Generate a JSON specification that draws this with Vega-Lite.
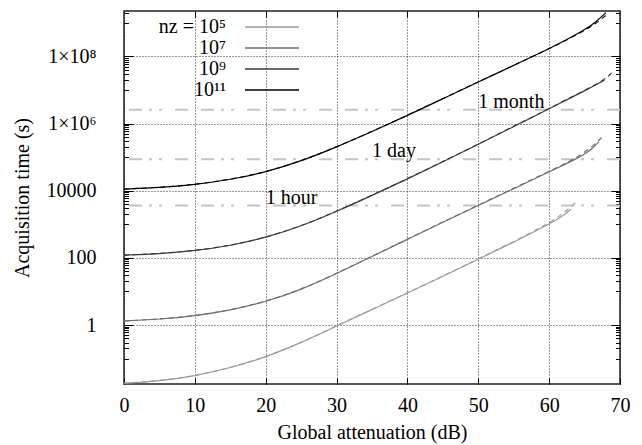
{
  "$schema": "https://vega.github.io/schema/vega-lite/v6.json",
  "width": 496,
  "height": 373,
  "autosize": {"type": "none"},
  "padding": {"left": 124, "top": 11, "right": 22, "bottom": 61},
  "background": "white",
  "config": {
    "view": {"stroke": "#222222", "strokeWidth": 1.5},
    "font": "Liberation Serif",
    "axis": {"labelFont": "Liberation Serif", "titleFont": "Liberation Serif", "labelFontSize": 20, "titleFontSize": 20, "labelColor": "#000", "titleColor": "#000", "titleFontWeight": "normal", "tickColor": "#000", "domain": false},
    "legend": {"labelFont": "Liberation Serif", "labelFontSize": 20, "labelColor": "#000"}
  },
  "datasets": {
    "solid": [
      {"s": "nz = 10⁵", "a": 0, "t": 0.01841}, {"s": "nz = 10⁵", "a": 5, "t": 0.02138}, {"s": "nz = 10⁵", "a": 10, "t": 0.0302}, {"s": "nz = 10⁵", "a": 15, "t": 0.05248}, {"s": "nz = 10⁵", "a": 20, "t": 0.1096}, {"s": "nz = 10⁵", "a": 25, "t": 0.2951}, {"s": "nz = 10⁵", "a": 30, "t": 0.9333}, {"s": "nz = 10⁵", "a": 35, "t": 2.884}, {"s": "nz = 10⁵", "a": 40, "t": 8.913}, {"s": "nz = 10⁵", "a": 45, "t": 28.18}, {"s": "nz = 10⁵", "a": 50, "t": 91.2}, {"s": "nz = 10⁵", "a": 55, "t": 295.1}, {"s": "nz = 10⁵", "a": 60, "t": 1000}, {"s": "nz = 10⁵", "a": 62, "t": 1820}, {"s": "nz = 10⁵", "a": 63.1, "t": 2818},
      {"s": "10⁷", "a": 0, "t": 1.318}, {"s": "10⁷", "a": 5, "t": 1.479}, {"s": "10⁷", "a": 10, "t": 1.862}, {"s": "10⁷", "a": 15, "t": 2.754}, {"s": "10⁷", "a": 20, "t": 4.898}, {"s": "10⁷", "a": 25, "t": 11.22}, {"s": "10⁷", "a": 30, "t": 33.88}, {"s": "10⁷", "a": 35, "t": 109.6}, {"s": "10⁷", "a": 40, "t": 354.8}, {"s": "10⁷", "a": 45, "t": 1148}, {"s": "10⁷", "a": 50, "t": 3631}, {"s": "10⁷", "a": 55, "t": 11480}, {"s": "10⁷", "a": 60, "t": 36310}, {"s": "10⁷", "a": 62, "t": 57540}, {"s": "10⁷", "a": 64, "t": 93330}, {"s": "10⁷", "a": 65, "t": 123000}, {"s": "10⁷", "a": 66, "t": 173800}, {"s": "10⁷", "a": 67, "t": 281800},
      {"s": "10⁹", "a": 0, "t": 120.2}, {"s": "10⁹", "a": 5, "t": 131.8}, {"s": "10⁹", "a": 10, "t": 162.2}, {"s": "10⁹", "a": 15, "t": 229.1}, {"s": "10⁹", "a": 20, "t": 398.1}, {"s": "10⁹", "a": 25, "t": 871}, {"s": "10⁹", "a": 30, "t": 2399}, {"s": "10⁹", "a": 35, "t": 7244}, {"s": "10⁹", "a": 40, "t": 22390}, {"s": "10⁹", "a": 45, "t": 72440}, {"s": "10⁹", "a": 50, "t": 239900}, {"s": "10⁹", "a": 55, "t": 812800}, {"s": "10⁹", "a": 60, "t": 2754000}, {"s": "10⁹", "a": 65, "t": 9333000}, {"s": "10⁹", "a": 67.8, "t": 19500000},
      {"s": "10¹¹", "a": 0, "t": 11170}, {"s": "10¹¹", "a": 5, "t": 12300}, {"s": "10¹¹", "a": 10, "t": 15140}, {"s": "10¹¹", "a": 15, "t": 21380}, {"s": "10¹¹", "a": 20, "t": 35480}, {"s": "10¹¹", "a": 25, "t": 75860}, {"s": "10¹¹", "a": 30, "t": 199500}, {"s": "10¹¹", "a": 35, "t": 575400}, {"s": "10¹¹", "a": 40, "t": 1738000}, {"s": "10¹¹", "a": 45, "t": 5495000}, {"s": "10¹¹", "a": 50, "t": 17380000}, {"s": "10¹¹", "a": 55, "t": 53700000}, {"s": "10¹¹", "a": 60, "t": 169800000}, {"s": "10¹¹", "a": 62.5, "t": 316200000}, {"s": "10¹¹", "a": 65, "t": 616600000}, {"s": "10¹¹", "a": 66.5, "t": 1000000000}, {"s": "10¹¹", "a": 68, "t": 1995000000}
    ],
    "dashed": [
      {"g": "d5", "a": 0, "t": 0.0186}, {"g": "d5", "a": 5, "t": 0.0216}, {"g": "d5", "a": 10, "t": 0.0305}, {"g": "d5", "a": 15, "t": 0.0531}, {"g": "d5", "a": 20, "t": 0.111}, {"g": "d5", "a": 25, "t": 0.298}, {"g": "d5", "a": 30, "t": 0.945}, {"g": "d5", "a": 35, "t": 2.92}, {"g": "d5", "a": 40, "t": 9.05}, {"g": "d5", "a": 45, "t": 28.7}, {"g": "d5", "a": 50, "t": 93}, {"g": "d5", "a": 55, "t": 305}, {"g": "d5", "a": 60, "t": 1080}, {"g": "d5", "a": 62, "t": 2100}, {"g": "d5", "a": 64.1, "t": 5248},
      {"g": "d7", "a": 0, "t": 1.33}, {"g": "d7", "a": 5, "t": 1.49}, {"g": "d7", "a": 10, "t": 1.88}, {"g": "d7", "a": 15, "t": 2.79}, {"g": "d7", "a": 20, "t": 4.95}, {"g": "d7", "a": 25, "t": 11.4}, {"g": "d7", "a": 30, "t": 34.4}, {"g": "d7", "a": 35, "t": 111.5}, {"g": "d7", "a": 40, "t": 361}, {"g": "d7", "a": 45, "t": 1170}, {"g": "d7", "a": 50, "t": 3720}, {"g": "d7", "a": 55, "t": 11900}, {"g": "d7", "a": 60, "t": 38000}, {"g": "d7", "a": 62, "t": 61000}, {"g": "d7", "a": 64, "t": 100000}, {"g": "d7", "a": 66, "t": 200000}, {"g": "d7", "a": 67.7, "t": 430000},
      {"g": "d9", "a": 0, "t": 121}, {"g": "d9", "a": 5, "t": 133}, {"g": "d9", "a": 10, "t": 164}, {"g": "d9", "a": 15, "t": 232}, {"g": "d9", "a": 20, "t": 403}, {"g": "d9", "a": 25, "t": 884}, {"g": "d9", "a": 30, "t": 2435}, {"g": "d9", "a": 35, "t": 7350}, {"g": "d9", "a": 40, "t": 22800}, {"g": "d9", "a": 45, "t": 74000}, {"g": "d9", "a": 50, "t": 245000}, {"g": "d9", "a": 55, "t": 830000}, {"g": "d9", "a": 60, "t": 2820000}, {"g": "d9", "a": 65, "t": 9800000}, {"g": "d9", "a": 67.8, "t": 20000000}, {"g": "d9", "a": 69, "t": 34670000},
      {"g": "d11", "a": 0, "t": 11250}, {"g": "d11", "a": 5, "t": 12450}, {"g": "d11", "a": 10, "t": 15300}, {"g": "d11", "a": 15, "t": 21600}, {"g": "d11", "a": 20, "t": 35900}, {"g": "d11", "a": 25, "t": 76700}, {"g": "d11", "a": 30, "t": 201500}, {"g": "d11", "a": 35, "t": 581000}, {"g": "d11", "a": 40, "t": 1755000}, {"g": "d11", "a": 45, "t": 5550000}, {"g": "d11", "a": 50, "t": 17500000}, {"g": "d11", "a": 55, "t": 54000000}, {"g": "d11", "a": 60, "t": 169000000}, {"g": "d11", "a": 62.5, "t": 310000000}, {"g": "d11", "a": 65, "t": 590000000}, {"g": "d11", "a": 66.5, "t": 920000000}, {"g": "d11", "a": 68, "t": 1660000000}
    ],
    "refs": [{"t": 3600}, {"t": 86400}, {"t": 2592000}],
    "notes": [{"a": 20, "t": 3600, "label": "1 hour"}, {"a": 35, "t": 86400, "label": "1 day"}, {"a": 50, "t": 2592000, "label": "1 month"}]
  },
  "resolve": {"axis": {"x": "independent", "y": "independent"}},
  "layer": [
    {
      "data": {"name": "refs"},
      "mark": {"type": "rule", "color": "#c4c4c4", "strokeWidth": 2, "strokeDash": [13, 13, 3, 7, 3, 7, 13, 13]},
      "encoding": {
        "y": {"field": "t", "type": "quantitative", "scale": {"type": "log", "domain": [0.0175, 2250000000], "nice": false},
          "axis": {"orient": "right", "values": [1, 100, 10000, 1000000, 100000000], "labels": false, "grid": false, "tickSize": -9, "title": null}}
      }
    },
    {
      "data": {"name": "notes"},
      "mark": {"type": "text", "align": "left", "baseline": "alphabetic", "dy": -2, "fontSize": 20, "font": "Liberation Serif", "color": "#000"},
      "encoding": {
        "x": {"field": "a", "type": "quantitative", "scale": {"domain": [0, 70], "nice": false},
          "axis": {"orient": "top", "values": [10, 20, 30, 40, 50, 60], "labels": false, "grid": false, "tickSize": -6, "title": null}},
        "y": {"field": "t", "type": "quantitative", "scale": {"type": "log", "domain": [0.0175, 2250000000], "nice": false},
          "axis": {"orient": "left", "values": [0.1, 0.2, 0.3, 0.4, 0.5, 0.6, 0.7, 0.8, 0.9, 10, 20, 30, 40, 50, 60, 70, 80, 90, 1000, 2000, 3000, 4000, 5000, 6000, 7000, 8000, 9000, 100000, 200000, 300000, 400000, 500000, 600000, 700000, 800000, 900000, 10000000, 20000000, 30000000, 40000000, 50000000, 60000000, 70000000, 80000000, 90000000, 1000000000, 2000000000], "labels": false, "grid": false, "tickSize": -4.5, "title": null}},
        "text": {"field": "label"}
      }
    },
    {
      "data": {"name": "dashed"},
      "mark": {"type": "line", "strokeWidth": 1.1, "strokeDash": [5, 4], "interpolate": "basis", "clip": true},
      "encoding": {
        "x": {"field": "a", "type": "quantitative", "scale": {"domain": [0, 70], "nice": false}, "axis": null},
        "y": {"field": "t", "type": "quantitative", "scale": {"type": "log", "domain": [0.0175, 2250000000], "nice": false},
          "axis": {"orient": "right", "values": [0.1, 0.2, 0.3, 0.4, 0.5, 0.6, 0.7, 0.8, 0.9, 10, 20, 30, 40, 50, 60, 70, 80, 90, 1000, 2000, 3000, 4000, 5000, 6000, 7000, 8000, 9000, 100000, 200000, 300000, 400000, 500000, 600000, 700000, 800000, 900000, 10000000, 20000000, 30000000, 40000000, 50000000, 60000000, 70000000, 80000000, 90000000, 1000000000, 2000000000], "labels": false, "grid": false, "tickSize": -4.5, "title": null}},
        "stroke": {"field": "g", "type": "nominal", "scale": {"domain": ["d5", "d7", "d9", "d11"], "range": ["#9a9a9a", "#6e6e6e", "#3a3a3a", "#000000"]}, "legend": null}
      }
    },
    {
      "data": {"name": "solid"},
      "mark": {"type": "line", "strokeWidth": 1.2, "interpolate": "basis", "clip": true},
      "encoding": {
        "x": {"field": "a", "type": "quantitative", "scale": {"domain": [0, 70], "nice": false},
          "axis": {"orient": "bottom", "values": [0, 10, 20, 30, 40, 50, 60, 70], "grid": true, "gridDash": [1, 2], "gridColor": "#000", "gridOpacity": 0.8, "tickSize": -6, "labelPadding": 17, "labelFlush": false, "title": "Global attenuation (dB)", "titleX": 248, "titleY": 48, "titleBaseline": "middle"}},
        "y": {"field": "t", "type": "quantitative", "scale": {"type": "log", "domain": [0.0175, 2250000000], "nice": false},
          "axis": {"orient": "left", "values": [1, 100, 10000, 1000000, 100000000], "grid": true, "gridDash": [1, 2], "gridColor": "#000", "gridOpacity": 0.8, "tickSize": -9, "labelPadding": 37, "labelExpr": "datum.value == 100000000 ? '1×10⁸' : datum.value == 1000000 ? '1×10⁶' : format(datum.value, 'd')", "title": "Acquisition time (s)", "titleX": -102, "titleY": 186.5, "titleAngle": -90, "titleBaseline": "middle", "titleAlign": "center"}},
        "color": {"field": "s", "type": "nominal", "scale": {"domain": ["nz = 10⁵", "10⁷", "10⁹", "10¹¹"], "range": ["#9a9a9a", "#6e6e6e", "#3a3a3a", "#000000"]},
          "legend": {"orient": "none", "legendX": 137, "legendY": 5, "title": null, "symbolType": "M-2.7,0H2.7", "symbolSize": 400, "symbolStrokeWidth": 1.3, "labelAlign": "right", "labelOffset": -57, "rowPadding": 0, "labelLimit": 200}}
      }
    }
  ]
}
